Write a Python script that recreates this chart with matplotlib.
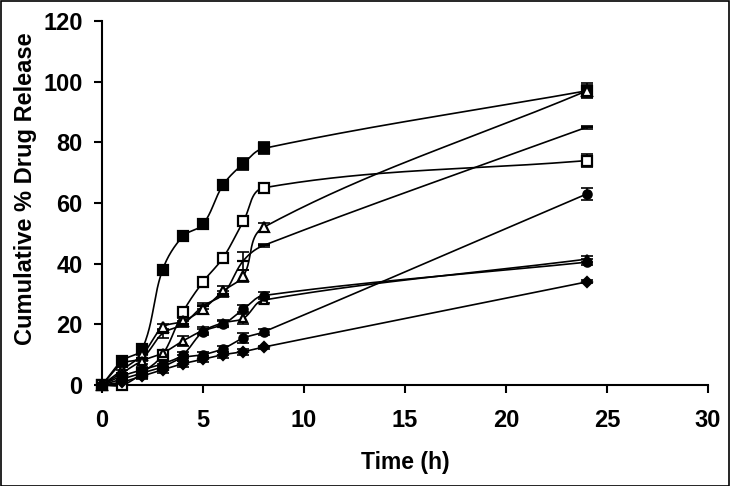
import matplotlib
matplotlib.use("Agg")
import matplotlib.pyplot as plt
import numpy as np
from matplotlib.patches import Rectangle

plt.rcParams['font.family'] = ['Liberation Sans', 'DejaVu Sans']
plt.rcParams['font.weight'] = 'bold'

# sampling times (h)
t = [0, 1, 2, 3, 4, 5, 6, 7, 8, 24]

# cumulative % drug release for each formulation
rel_a = [0, 8, 12, 38, 49, 53, 66, 73, 78, 97]
rel_b = [0, 0, 4, 10, 24, 34, 42, 54, 65, 74]
rel_c = [0, 5, 10, 19, 21, 25, 31, 36, 52, 97]
rel_d = [0, 7, 9, 17, 20, 26, 30, 41, 46, 85]
rel_e = [0, 4, 8, 10.5, 14.5, 18, 20.5, 22, 28, 41.5]
rel_f = [0, 3, 5, 7, 10, 17.5, 20, 25, 29.5, 40.5]
rel_g = [0, 2, 4, 6, 9, 10, 12, 15.5, 17.5, 63]
rel_h = [0, 1, 3, 5, 7, 8.5, 10, 11, 12.5, 34]

# standard deviations
err_a = [0.5, 1, 1, 1.5, 1, 1, 1, 2, 2, 2.5]
err_b = [0.5, 0.5, 1, 1, 1, 1, 1, 1, 1, 2]
err_c = [0.5, 1, 1, 1, 1, 1.5, 1.5, 2, 1.5, 2]
err_d = [0.5, 1, 1, 1.5, 1, 1, 1, 3, 0.5, 0.5]
err_e = [0.5, 1, 1, 1, 1.5, 1, 1, 2, 1, 1]
err_f = [0.5, 1, 1, 1, 1, 1, 1, 1.5, 1, 1]
err_g = [0.5, 1, 1, 1, 1, 1, 1, 1.5, 1, 2]
err_h = [0.5, 1, 1, 1, 1, 1, 1, 1, 0.5, 0.5]

series = [
    (rel_a, err_a, 's', 'black', 7.5),
    (rel_b, err_b, 's', 'white', 7),
    (rel_c, err_c, '^', 'white', 7),
    (rel_d, err_d, '_', 'black', 9),
    (rel_e, err_e, '^', 'white', 6),
    (rel_f, err_f, 'o', 'black', 6),
    (rel_g, err_g, 'o', 'black', 6),
    (rel_h, err_h, 'D', 'black', 5),
]

# pixel per data unit, used so the smoothing works in screen space
PX_X, PX_Y = 20.2, 3.03


def smooth(xs, ys, n=40, k=0.35):
    # Excel-like smoothed line: cubic Bezier with chord-scaled tangents
    p = np.column_stack([np.array(xs) * PX_X, np.array(ys) * PX_Y]).astype(float)
    p = np.vstack([p[0], p, p[-1]])

    def unit(v):
        nv = np.hypot(*v)
        return v / nv if nv > 0 else v

    out = []
    for i in range(1, len(p) - 2):
        p0, p1, p2, p3 = p[i - 1], p[i], p[i + 1], p[i + 2]
        d = np.hypot(*(p2 - p1))
        c1 = p1 + unit(p2 - p0) * d * k
        c2 = p2 - unit(p3 - p1) * d * k
        s = np.linspace(0, 1, n)[:, None]
        seg = ((1 - s) ** 3) * p1 + 3 * ((1 - s) ** 2) * s * c1 + 3 * (1 - s) * s ** 2 * c2 + s ** 3 * p2
        out.append(seg)
    out = np.vstack(out)
    return out[:, 0] / PX_X, out[:, 1] / PX_Y


fig = plt.figure(figsize=(7.3, 4.86), dpi=100)
ax = fig.add_axes([0.1397, 0.2078, 0.8303, 0.749])

for ys, es, mk, fc, ms in series:
    sx, sy = smooth(t, ys)
    ax.plot(sx, sy, color='black', lw=1.2, clip_on=False, zorder=2)
    ax.errorbar(t, ys, yerr=es, fmt='none', ecolor='black', elinewidth=1.2,
                capsize=4, capthick=1.2, clip_on=False, zorder=3)
    ax.plot(t, ys, linestyle='None', marker=mk, markersize=ms,
            markerfacecolor=fc, markeredgecolor='black', markeredgewidth=1.6,
            clip_on=False, zorder=4)

ax.set_xlim(0, 30)
ax.set_ylim(0, 120)
ax.set_xticks(np.arange(0, 31, 5))
ax.set_yticks(np.arange(0, 121, 20))
ax.spines['top'].set_visible(False)
ax.spines['right'].set_visible(False)
ax.spines['left'].set_linewidth(1.5)
ax.spines['bottom'].set_linewidth(1.5)
ax.tick_params(direction='out', length=6, width=1.5, labelsize=17)
ax.tick_params(axis='y', pad=8)
ax.tick_params(axis='x', pad=11)
for lab in ax.get_xticklabels() + ax.get_yticklabels():
    lab.set_fontweight('bold')

ax.set_xlabel('Time (h)', fontsize=16.5, fontweight='bold')
ax.set_ylabel('Cumulative % Drug Release', fontsize=17, fontweight='bold')
ax.xaxis.set_label_coords(0.5, -0.212)
ax.yaxis.set_label_coords(-0.127, 0.54)
ax.xaxis.label.set_va('center')
ax.yaxis.label.set_va('center')

fig.patches.append(Rectangle((0.001, 0.001), 0.997, 0.997, transform=fig.transFigure,
                             fill=False, edgecolor='black', lw=1.2))

fig.savefig('out.png', dpi=100)
